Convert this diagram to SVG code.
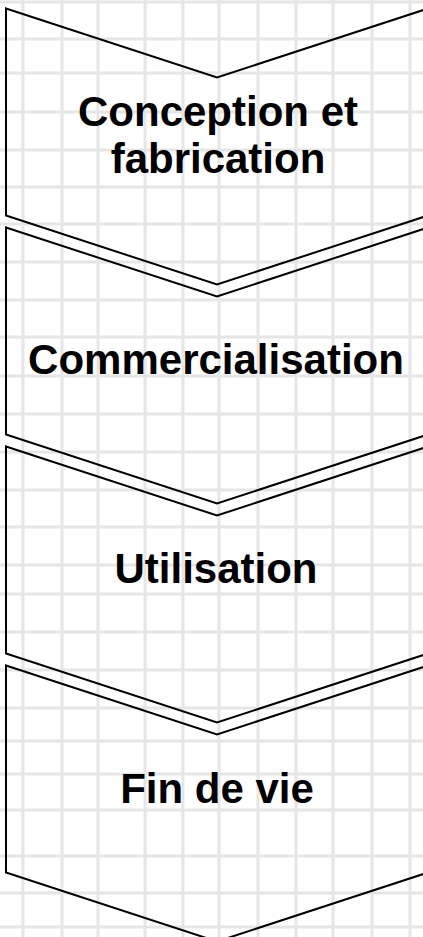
<svg xmlns="http://www.w3.org/2000/svg" width="423" height="937" viewBox="0 0 423 937">
<style>
.grid line{stroke:#e6e6e6;stroke-width:3}
.chev{fill:none;stroke:#000;stroke-width:2;stroke-linejoin:miter}
.lbl{font-family:"Liberation Sans",Arial,sans-serif;font-weight:bold;font-size:42px;fill:#000;text-anchor:middle}
</style>
<rect width="423" height="937" fill="#fff"/>
<g class="grid" id="grid">
<line x1="23" y1="0" x2="23" y2="937"/>
<line x1="62" y1="0" x2="62" y2="937"/>
<line x1="98" y1="0" x2="98" y2="937"/>
<line x1="145" y1="0" x2="145" y2="937"/>
<line x1="183" y1="0" x2="183" y2="937"/>
<line x1="219" y1="0" x2="219" y2="937"/>
<line x1="258" y1="0" x2="258" y2="937"/>
<line x1="296" y1="0" x2="296" y2="937"/>
<line x1="333" y1="0" x2="333" y2="937"/>
<line x1="372" y1="0" x2="372" y2="937"/>
<line x1="410" y1="0" x2="410" y2="937"/>
<line x1="0" y1="2" x2="423" y2="2"/>
<line x1="0" y1="39" x2="423" y2="39"/>
<line x1="0" y1="73" x2="423" y2="73"/>
<line x1="0" y1="112" x2="423" y2="112"/>
<line x1="0" y1="150" x2="423" y2="150"/>
<line x1="0" y1="187" x2="423" y2="187"/>
<line x1="0" y1="224" x2="423" y2="224"/>
<line x1="0" y1="262" x2="423" y2="262"/>
<line x1="0" y1="300" x2="423" y2="300"/>
<line x1="0" y1="337" x2="423" y2="337"/>
<line x1="0" y1="376" x2="423" y2="376"/>
<line x1="0" y1="414" x2="423" y2="414"/>
<line x1="0" y1="452" x2="423" y2="452"/>
<line x1="0" y1="490" x2="423" y2="490"/>
<line x1="0" y1="527" x2="423" y2="527"/>
<line x1="0" y1="565" x2="423" y2="565"/>
<line x1="0" y1="594" x2="423" y2="594"/>
<line x1="0" y1="632" x2="423" y2="632"/>
<line x1="0" y1="670" x2="423" y2="670"/>
<line x1="0" y1="708" x2="423" y2="708"/>
<line x1="0" y1="741" x2="423" y2="741"/>
<line x1="0" y1="774" x2="423" y2="774"/>
<line x1="0" y1="810" x2="423" y2="810"/>
<line x1="0" y1="856" x2="423" y2="856"/>
<line x1="0" y1="893" x2="423" y2="893"/>
<line x1="0" y1="927" x2="423" y2="927"/>
</g>
<g id="node-conception">
<path class="chev" d="M6,8.5 L217,77.5 L428,8.5 L428,215.5 L217,284.5 L6,215.5 Z"/>
<text class="lbl" x="218" y="126">Conception et</text>
<text class="lbl" x="218" y="173">fabrication</text>
</g>
<g id="node-commercialisation">
<path class="chev" d="M6,227.5 L217,296.5 L428,227.5 L428,434.5 L217,503.5 L6,434.5 Z"/>
<text class="lbl" x="216" y="374">Commercialisation</text>
</g>
<g id="node-utilisation">
<path class="chev" d="M6,446.5 L217,515.5 L428,446.5 L428,653.5 L217,722.5 L6,653.5 Z"/>
<text class="lbl" x="216" y="583">Utilisation</text>
</g>
<g id="node-findevie">
<path class="chev" d="M6,665.5 L217,734.5 L428,665.5 L428,872.5 L217,941.5 L6,872.5 Z"/>
<text class="lbl" x="217" y="803">Fin de vie</text>
</g>
<g id="connectors"></g>
</svg>
